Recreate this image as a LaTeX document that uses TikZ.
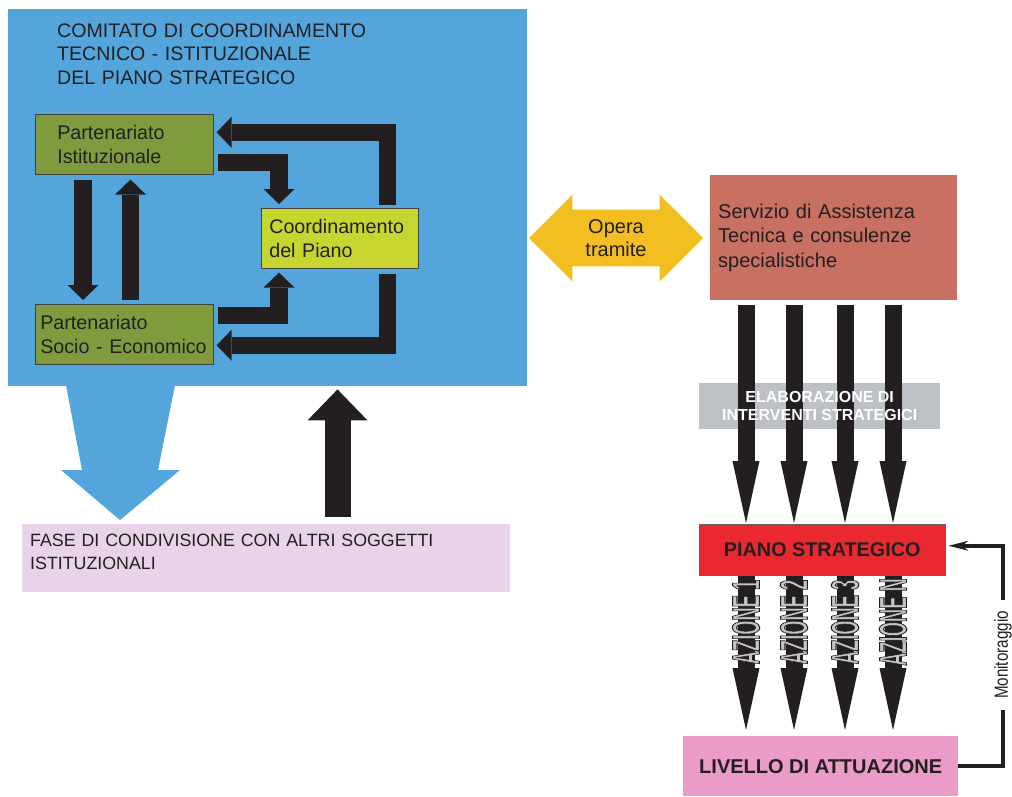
\documentclass[tikz,border=0pt]{standalone}
\usepackage{graphicx}
\usepackage{fontspec}
\setmainfont{Liberation Sans}
\usepackage{tikz}
\usetikzlibrary{arrows.meta,positioning,calc,shapes.arrows,backgrounds}
\definecolor{comblue}{HTML}{54A5DC}
\definecolor{partgreen}{HTML}{7F9B3D}
\definecolor{coordlime}{HTML}{C7D531}
\definecolor{operayellow}{HTML}{F2BE22}
\definecolor{servsalmon}{HTML}{C87163}
\definecolor{elabgray}{HTML}{BDC0C4}
\definecolor{pianored}{HTML}{E9292F}
\definecolor{livpink}{HTML}{EA9BC6}
\definecolor{faselilac}{HTML}{E9D3E8}
\definecolor{inkblack}{HTML}{231F20}
\definecolor{azgray}{HTML}{C4C6C8}
% gray letters with a dark outline, squeezed
\newcommand{\outlinetext}[1]{\scalebox{0.47}[1]{\special{pdf:literal direct 2 Tr 1.1 w 0.137 0.122 0.125 RG}#1\special{pdf:literal direct 0 Tr}}}
\tikzset{
  plainbox/.style={anchor=north west, inner ysep=0pt, text=inkblack},
  combox/.style={plainbox, fill=comblue, align=left, text width=421pt, inner xsep=49pt,
    text height=28pt, text depth=349pt, font=\fontsize{19.6}{23.5}\selectfont},
  partbox/.style={plainbox, fill=partgreen, draw=inkblack!85, line width=0.6pt, align=left,
    minimum width=178pt, minimum height=60pt, font=\fontsize{19.7}{24}\selectfont},
  coordbox/.style={partbox, fill=coordlime, minimum width=157pt, text width=141pt, inner xsep=8pt},
  fasebox/.style={plainbox, fill=faselilac, align=left, text width=472pt, inner xsep=8pt,
    text height=22pt, text depth=46pt, font=\fontsize{17.8}{23}\selectfont},
  servbox/.style={plainbox, fill=servsalmon, align=left, text width=231pt, inner xsep=8pt,
    minimum height=125pt, font=\fontsize{20}{24.5}\selectfont},
  operaarrow/.style={double arrow, fill=operayellow, double arrow tip angle=90,
    double arrow head extend=15pt, double arrow head indent=0pt, minimum height=174pt,
    inner xsep=0pt, inner ysep=9.5pt, align=center, text=inkblack,
    font=\fontsize{20}{23}\selectfont},
  pianobox/.style={plainbox, fill=pianored, draw=inkblack!70, line width=0.5pt,
    minimum width=246pt, minimum height=51pt, font=\fontsize{19.8}{24}\selectfont\bfseries},
  livbox/.style={plainbox, fill=livpink, minimum width=275pt, minimum height=60pt,
    font=\fontsize{20}{24}\selectfont\bfseries},
  elabbox/.style={plainbox, align=center, text=white, minimum width=241pt, minimum height=46pt,
    font=\fontsize{16}{18}\selectfont\bfseries},
  fat/.style={draw=inkblack, line width=17.5pt, line join=miter,
    -{Triangle[length=15pt,width=31pt,line width=0pt]}},
  lance/.style={draw=inkblack, line width=17pt,
    -{Triangle[length=62pt,width=27pt,line width=0pt]}},
  azlabel/.style={rotate=90, inner sep=0pt, text=azgray,
    font=\fontsize{39}{39}\selectfont\bfseries},
  monline/.style={draw=inkblack, line width=4pt, line join=miter,
    -{Stealth[length=20pt,width=10pt,line width=0pt]}},
  montext/.style={rotate=90, fill=white, inner xsep=11pt, inner ysep=2pt, text=inkblack,
    font=\fontsize{19}{20}\selectfont},
}
\begin{document}
\begin{tikzpicture}[x=1pt,y=-1pt]
  \useasboundingbox (0,0) rectangle (1012,796);
  % committee and its members
  \node[combox] (comitato) at (8,9) {COMITATO DI COORDINAMENTO\\TECNICO - ISTITUZIONALE\\DEL PIANO STRATEGICO};
  \node[partbox, inner xsep=22pt, text width=134pt] (istit) at (35,114) {Partenariato\\Istituzionale};
  \node[partbox, inner xsep=5pt, text width=168pt] (socio) at (35,304) {Partenariato\\Socio - Economico};
  \node[coordbox] (coordp) at (261,208) {Coordinamento\\del Piano};
  \node[fasebox] (fase) at (22,524) {FASE DI CONDIVISIONE CON ALTRI SOGGETTI\\ISTITUZIONALI};

  \draw[fat] ([xshift=-31pt,yshift=3pt]coordp.north east) |- ([xshift=3pt,yshift=12pt]istit.east);
  \draw[fat] ([xshift=4pt,yshift=-18pt]istit.east) -| ([xshift=18pt,yshift=4pt]coordp.north west);
  \draw[fat] ([xshift=48pt,yshift=-5pt]istit.south west) -- ([xshift=48pt,yshift=4pt]socio.north west);
  \draw[fat] ([xshift=95.5pt,yshift=4pt]socio.north west) -- ([xshift=95.5pt,yshift=-5pt]istit.south west);
  \draw[fat] ([xshift=4pt,yshift=19pt]socio.east) -| ([xshift=18pt,yshift=-4pt]coordp.south west);
  \draw[fat] ([xshift=-31pt,yshift=-5pt]coordp.south east) |- ([xshift=3pt,yshift=-11pt]socio.east);

  % sharing phase
  \fill[comblue] (66,385) -- (82,470) -- (61,470) -- (120,520) -- (180,470) -- (158,470) -- (175,385) -- cycle;
  \coordinate (upcol) at ([xshift=315.5pt]fase.north west);
  \draw[fat, line width=26pt, -{Triangle[length=31pt,width=60pt,line width=0pt]},
    shorten <=7pt, shorten >=3pt] (upcol) -- (upcol |- comitato.south);

  % technical assistance and the plan
  \node[operaarrow] (opera) at (616,238) {Opera\\tramite};
  \node[servbox] (servizio) at (710,175) {Servizio di Assistenza\\Tecnica e consulenze\\specialistiche};
  \node[pianobox] (piano) at (699,524) {PIANO STRATEGICO};
  \node[livbox] (livello) at (683,736) {LIVELLO DI ATTUAZIONE};

  \foreach \i/\x/\t in {1/746/1,2/794/2,3/845/3,4/893/N} {
    \coordinate (col\i) at (\x,0);
    \draw[lance, shorten <=5pt, shorten >=1pt] (servizio.south -| col\i) -- (piano.north -| col\i);
    \draw[lance, shorten >=6pt] (piano.south -| col\i) -- (livello.north -| col\i);
    \node[azlabel] (az\i) at (\x,622) {\outlinetext{AZIONE \t}};
  }

  \node[elabbox] (elab) at (699,383) {ELABORAZIONE DI\\INTERVENTI STRATEGICI};
  \begin{pgfonlayer}{background}
    \fill[elabgray] (elab.north west) rectangle (elab.south east);
  \end{pgfonlayer}

  \coordinate (monbend) at (1003,655);
  \draw[monline, shorten >=3pt] (livello.east) -| (monbend)
    node[montext] (monit) {\scalebox{0.8}[1]{Monitoraggio}}
    |- ([yshift=4pt]piano.east);
\end{tikzpicture}
\end{document}
